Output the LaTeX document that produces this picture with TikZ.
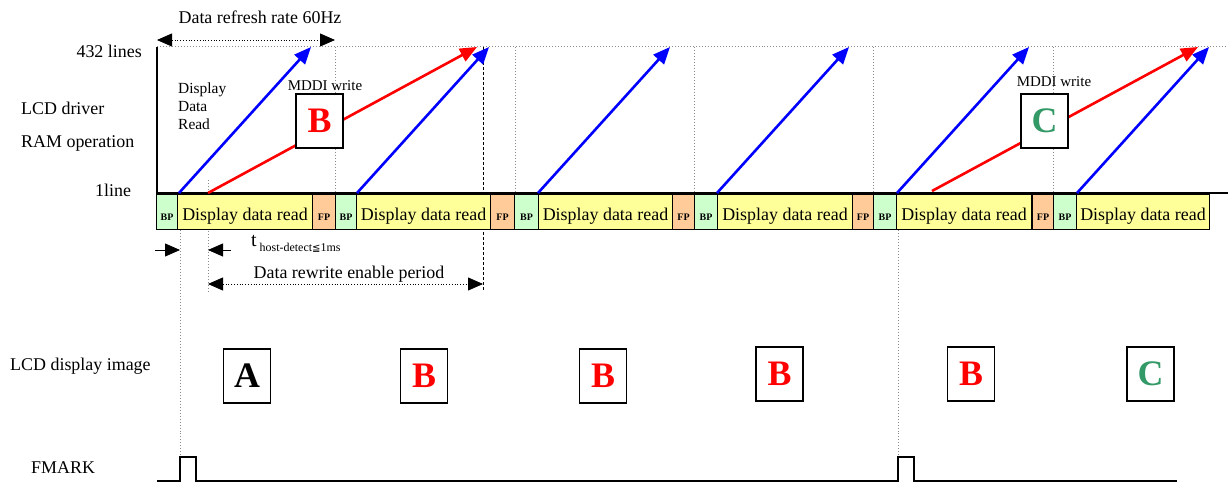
\documentclass[tikz,border=0pt]{standalone}
\usepackage{fontspec}
\setmainfont{Liberation Serif}
\newfontfamily\symfont{DejaVu Sans}
\usepackage{xcolor}
\usetikzlibrary{arrows.meta}
\definecolor{bpgreen}{HTML}{CCFFCC}
\definecolor{rdyellow}{HTML}{FFFF99}
\definecolor{fporange}{HTML}{FFCC99}
\definecolor{imggreen}{HTML}{339966}
\definecolor{guidegray}{HTML}{8C8C8C}

\begin{document}
\begin{tikzpicture}[x=1bp, y=-1bp,
    every node/.style={font=\fontsize{18}{20}\selectfont, inner sep=0pt},
    lbl/.style={anchor=west},
    segbox/.style={draw, line width=1bp, minimum height=35bp, anchor=south west,
      text height=17bp, text depth=0pt},
    bpbox/.style={segbox, fill=bpgreen, font=\fontsize{10}{10}\selectfont\bfseries},
    fpbox/.style={segbox, fill=fporange, font=\fontsize{10}{10}\selectfont\bfseries},
    readbox/.style={segbox, fill=rdyellow},
    imgbox/.style={draw, line width=1.5bp, fill=white, minimum width=47bp,
      minimum height=54bp, font=\fontsize{36}{36}\selectfont\bfseries},
    readarrow/.style={draw=blue, line width=2.6bp, -{Triangle[length=17bp,width=14bp]}},
    writearrow/.style={draw=red, line width=2.6bp, -{Triangle[length=17bp,width=14bp]}},
    span/.style={dotted, line width=0.8bp, {Triangle[length=15bp,width=13bp]}-{Triangle[length=15bp,width=13bp]}},
    tick/.style={line width=0.8bp, -{Triangle[length=15bp,width=13bp]}},
    guide/.style={draw=guidegray, dotted, line width=1bp},
    blackguide/.style={dashed, line width=0.8bp, dash pattern=on 3bp off 2bp}
  ]
  \useasboundingbox (0,0) rectangle (1230,482);

  % labels on the left
  \node[anchor=east] (lines432) at (142,51) {432 lines};
  \node[lbl] (drv) at (21,108) {LCD driver};
  \node[lbl] (ram) at (21,143) {RAM operation};
  \node[lbl] (oneline) at (95,190) {1line};
  \node[lbl] (dispimg) at (10,366) {LCD display image};
  \node[lbl] (fmark) at (31,468) {FMARK};

  % guide lines
  \draw[guide] (157,47) -- (1228,47);
  \foreach \x in {335,515,694,873,1053}
    \draw[guide] (\x,47) -- (\x,193);
  \draw[guide] (180,230) -- (180,457);
  \draw[guide] (898,230) -- (898,457);
  \draw[guide] (208,180) -- (208,292);
  \draw[blackguide] (483,47) -- (483,292);

  % axes
  \draw[line width=2bp] (157,47) -- (157,193) -- (1228,193);

  % frame segments
  \foreach \i/\a/\b in {1/156/177, 2/335/356, 3/514/538, 4/694/717, 5/873/896, 6/1053/1076}
    \node[bpbox, minimum width={(\b-\a)*1bp}] (bp\i) at (\a,230) {BP};
  \foreach \i/\a/\b in {1/312/335, 2/490/514, 3/672/694, 4/852/873, 5/1032/1053}
    \node[fpbox, minimum width={(\b-\a)*1bp}] (fp\i) at (\a,230) {FP};
  \foreach \i/\a/\b in {1/177/312, 2/356/490, 3/538/672, 4/717/852, 5/896/1031, 6/1076/1209}
    \node[readbox, minimum width={(\b-\a)*1bp}] (rd\i) at (\a,230) {Display data read};

  % display data read
  \foreach \i/\a in {1/179, 2/357, 3/538, 4/717, 5/897, 6/1077} {
    \coordinate (rdlow\i) at (\a,193);
    \coordinate (rdtop\i) at (\a+132,47);
    \draw[readarrow] (rdlow\i) -- (rdtop\i);
  }
  \node[lbl, align=left, font=\fontsize{15.5}{18}\selectfont] (ddr) at (178,106) {Display\\Data\\Read};

  % MDDI write
  \coordinate (wrlowB) at (208,193);
  \coordinate (wrtopB) at (477,47);
  \coordinate (wrlowC) at (932,191);
  \coordinate (wrtopC) at (1198,47);
  \draw[writearrow] (wrlowB) -- (wrtopB);
  \draw[writearrow] (wrlowC) -- (wrtopC);
  \node[imgbox, text=red] (wrB) at (319.5,121) {B};
  \node[imgbox, text=imggreen] (wrC) at (1044.5,121) {C};
  \node[font=\fontsize{15}{18}\selectfont] (mddiB) at (325,86) {MDDI write};
  \node[font=\fontsize{15}{18}\selectfont] (mddiC) at (1054,82) {MDDI write};

  % refresh rate
  \node (refresh) at (260,17) {Data refresh rate 60Hz};
  \coordinate (rfL) at (157,40);
  \coordinate (rfR) at (335,40);
  \draw[span] (rfL) -- (rfR);

  % host detect
  \coordinate (hdA) at (155,250);
  \coordinate (hdB) at (180,250);
  \coordinate (hdC) at (231,250);
  \coordinate (hdD) at (208,250);
  \draw[tick] (hdA) -- (hdB);
  \draw[tick] (hdC) -- (hdD);
  \node[lbl] (thost) at (251,244) {\fontsize{20}{20}\selectfont t\raisebox{-5bp}{\fontsize{12}{12}\selectfont\ host-detect{\symfont\fontsize{10}{12}\selectfont≦}1ms}};

  % rewrite period
  \node (rewrite) at (349,274) {Data rewrite enable period};
  \coordinate (rwL) at (208,284);
  \coordinate (rwR) at (483,284);
  \draw[span] (rwL) -- (rwR);

  % LCD display image
  \node[imgbox] (imgA) at (247,376) {A};
  \node[imgbox, text=red] (imgB1) at (424,376) {B};
  \node[imgbox, text=red] (imgB2) at (603,376) {B};
  \node[imgbox, text=red] (imgB3) at (779.5,374) {B};
  \node[imgbox, text=red] (imgB4) at (971,374) {B};
  \node[imgbox, text=imggreen] (imgC) at (1150.5,374) {C};

  % FMARK
  \draw[line width=2bp] (157,481) -- (180,481) -- (180,457) -- (196,457) -- (196,481)
    -- (898,481) -- (898,457) -- (914,457) -- (914,481) -- (1177,481);
\end{tikzpicture}
\end{document}
